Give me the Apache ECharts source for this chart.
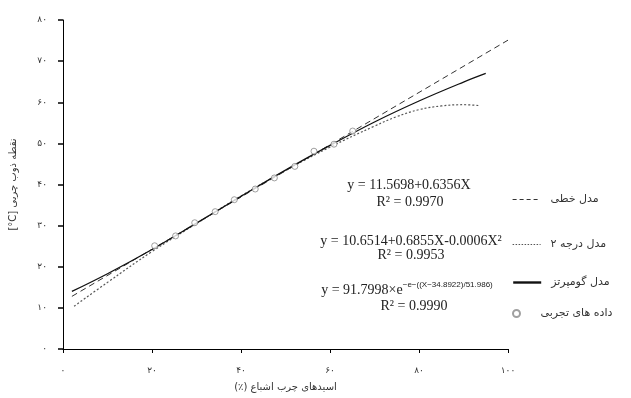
<!DOCTYPE html>
<html>
<head>
<meta charset="utf-8">
<script src="https://cdn.jsdelivr.net/npm/echarts@6/dist/echarts.min.js"></script>
<style>html,body{margin:0;padding:0;background:#fff}#c{width:631px;height:398px}</style>
</head>
<body>
<div id="c"></div>
<script>
// Tick labels (Persian digits)
const xTickLabels = {0:'۰',20:'۲۰',40:'۴۰',60:'۶۰',80:'۸۰',100:'۱۰۰'};
const yTickLabels = {0:'۰',10:'۱۰',20:'۲۰',30:'۳۰',40:'۴۰',50:'۵۰',60:'۶۰',70:'۷۰',80:'۸۰'};

// Experimental data
const expX = [20.6, 25.3, 29.6, 34.2, 38.5, 43.2, 47.5, 52.1, 56.4, 60.9, 65.1];
const expY = [25.1, 27.5, 30.7, 33.4, 36.3, 38.9, 41.6, 44.4, 48.1, 49.8, 53.0];

// Linear model
const linX = [2, 100];
const linY = [12.8, 75.1];

// Quadratic model
const quadX = [2.5, 10, 20, 30, 40, 50, 60, 70, 75, 80, 85, 90, 93.5];
const quadY = [10.4, 16.2, 23.7, 30.5, 37.2, 43.4, 49.1, 54.2, 56.5, 58.2, 59.1, 59.4, 59.2];

// Gompertz model
const gomX = [2, 10, 20, 30, 40, 50, 60, 70, 80, 90, 95];
const gomY = [14.0, 18.3, 24.2, 30.6, 37.1, 43.5, 49.5, 55.2, 60.3, 64.9, 67.0];

const names = ['مدل خطی', 'مدل درجه ۲', 'مدل گومپرتز', 'داده های تجربی'];
const xName = '(٪) اسیدهای چرب اشباع';
const yName = '\u200E[°C] نقطه ذوب چربی';

const pairs = (xs, ys) => xs.map((x, i) => [x, ys[i]]);
const fa = 'DejaVu Sans';
const serif = 'Liberation Serif';

const chart = echarts.init(document.getElementById('c'), null, {renderer: 'canvas'});

function legendAt(name, top, extra) {
  return Object.assign({
    data: [name], left: 507, top: top, orient: 'horizontal',
    itemWidth: 28, itemHeight: 10, selectedMode: false,
    itemStyle: {opacity: 0},
    textStyle: {fontFamily: fa, fontSize: 11, color: '#333', padding: [0, 0, 0, 5]}
  }, extra || {});
}

chart.setOption({
  animation: false,
  backgroundColor: '#fff',
  grid: {left: 61, right: 123, top: 20, bottom: 49},
  xAxis: {
    type: 'value', min: 0, max: 100, interval: 20,
    name: xName, nameLocation: 'middle', nameGap: 33,
    nameTextStyle: {fontFamily: fa, fontSize: 10, color: '#333'},
    axisLine: {lineStyle: {color: '#000', width: 1}},
    axisTick: {show: true, length: 4, lineStyle: {color: '#000'}},
    splitLine: {show: false},
    axisLabel: {formatter: v => xTickLabels[v] || '', fontFamily: fa, fontSize: 9, color: '#333', margin: 17}
  },
  yAxis: {
    type: 'value', min: 0, max: 80, interval: 10,
    name: yName, nameLocation: 'middle', nameGap: 45, nameRotate: 90,
    nameTextStyle: {fontFamily: fa, fontSize: 10, color: '#333'},
    axisLine: {show: true, lineStyle: {color: '#000', width: 1}},
    axisTick: {show: true, length: 5, lineStyle: {color: '#000', width: 1.5}},
    splitLine: {show: false},
    axisLabel: {formatter: v => yTickLabels[v] || '', fontFamily: fa, fontSize: 9, color: '#333', margin: 16}
  },
  legend: [
    legendAt(names[0], 189, {lineStyle: {width: 1.2, type: [4, 3]}}),
    legendAt(names[1], 234, {lineStyle: {width: 1.2, type: [1.5, 1.5]}}),
    legendAt(names[2], 272, {lineStyle: {width: 2.4}}),
    legendAt(names[3], 303, {itemStyle: {}, itemHeight: 7})
  ],
  graphic: [
    {type: 'text', x: 409, y: 185, style: {text: 'y = 11.5698+0.6356X', font: '14px "Liberation Serif"', fill: '#222', align: 'center', verticalAlign: 'middle'}},
    {type: 'text', x: 410, y: 202, style: {text: 'R² = 0.9970', font: '14px "Liberation Serif"', fill: '#222', align: 'center', verticalAlign: 'middle'}},
    {type: 'text', x: 411, y: 241, style: {text: 'y = 10.6514+0.6855X-0.0006X²', font: '14px "Liberation Serif"', fill: '#222', align: 'center', verticalAlign: 'middle'}},
    {type: 'text', x: 411, y: 255, style: {text: 'R² = 0.9953', font: '14px "Liberation Serif"', fill: '#222', align: 'center', verticalAlign: 'middle'}},
    {type: 'text', x: 407, y: 289, style: {
      text: '{a|y = 91.7998×e}{s|−e−((X−34.8922)/51.986)}',
      align: 'center', verticalAlign: 'middle',
      rich: {
        a: {fontFamily: serif, fontSize: 14, fill: '#222', lineHeight: 16, verticalAlign: 'bottom'},
        s: {fontFamily: 'Liberation Sans', fontSize: 8, fill: '#222', lineHeight: 16, verticalAlign: 'top'}
      }
    }},
    {type: 'text', x: 414, y: 306, style: {text: 'R² = 0.9990', font: '14px "Liberation Serif"', fill: '#222', align: 'center', verticalAlign: 'middle'}}
  ],
  series: [
    {
      name: names[0], type: 'line', data: pairs(linX, linY), symbol: 'none',
      lineStyle: {color: '#333', width: 1, type: [6, 4]}, itemStyle: {color: '#333'}, z: 3
    },
    {
      name: names[1], type: 'line', data: pairs(quadX, quadY), symbol: 'none', smooth: 0.4,
      lineStyle: {color: '#555', width: 1.2, type: [2, 2]}, itemStyle: {color: '#555'}, z: 3
    },
    {
      name: names[2], type: 'line', data: pairs(gomX, gomY), symbol: 'none', smooth: 0.4,
      lineStyle: {color: '#111', width: 1.3}, itemStyle: {color: '#111'}, z: 4
    },
    {
      name: names[3], type: 'scatter', data: pairs(expX, expY), symbol: 'circle', symbolSize: 6,
      itemStyle: {color: '#fff', borderColor: '#888', borderWidth: 1}, z: 5
    }
  ]
});
</script>
</body>
</html>
